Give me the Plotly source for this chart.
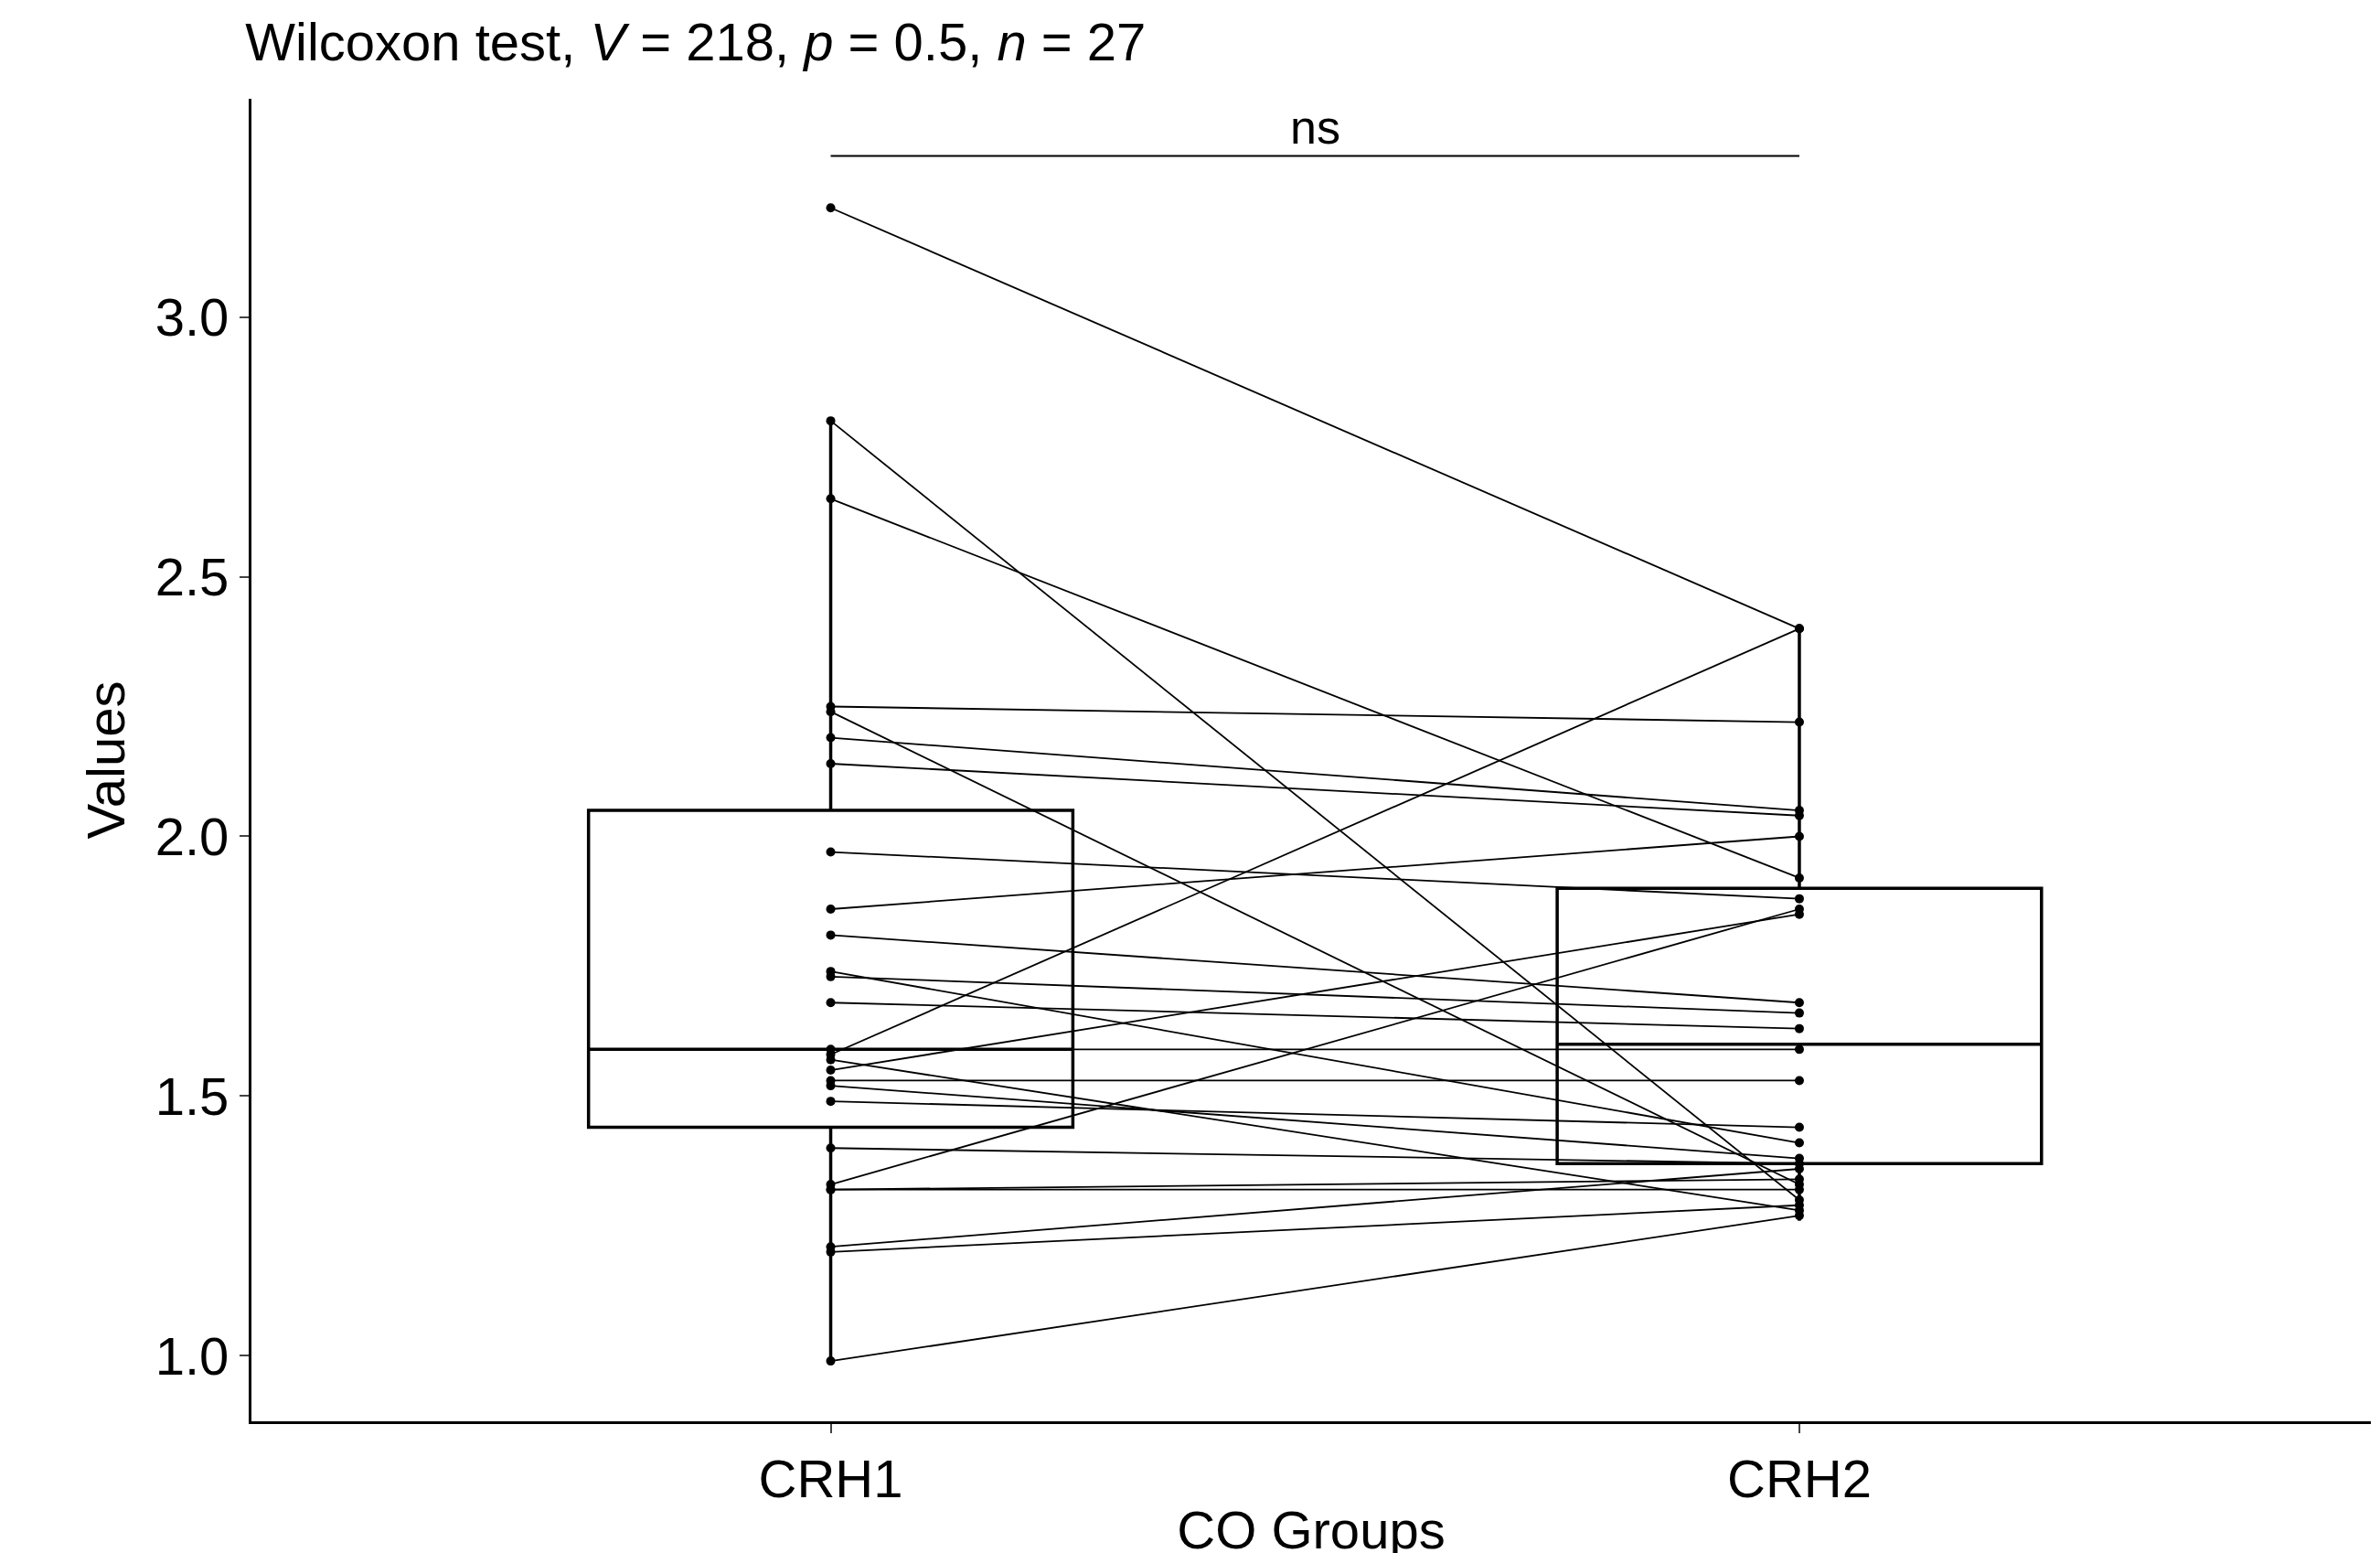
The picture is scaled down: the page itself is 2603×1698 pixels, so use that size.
import plotly.graph_objects as go

groups = ["CRH1", "CRH2"]
crh1 = [3.21, 2.80, 2.65, 2.25, 2.24, 2.19, 2.14, 1.97, 1.86, 1.81, 1.74, 1.73, 1.68,
        1.58, 1.59, 1.55, 1.53, 1.52, 1.49, 1.40, 1.33, 1.32, 1.32, 1.21, 1.20, 0.99, 1.57]
crh2 = [2.40, 1.30, 1.92, 2.22, 1.33, 2.05, 2.04, 1.88, 2.00, 1.68, 1.41, 1.66, 1.63,
        2.40, 1.59, 1.85, 1.53, 1.38, 1.44, 1.37, 1.86, 1.32, 1.34, 1.36, 1.29, 1.27, 1.28]
box_q1 = [1.44, 1.37]
box_med = [1.59, 1.60]
box_q3 = [2.05, 1.90]
box_lo = [0.99, 1.26]
box_hi = [2.80, 2.40]

fig = go.Figure()
for a, b in zip(crh1, crh2):
    fig.add_trace(go.Scatter(x=[0, 1], y=[a, b], mode="lines+markers",
                             line=dict(color="black", width=1.8),
                             marker=dict(color="black", size=10), showlegend=False))
fig.add_trace(go.Box(x=[0, 1], q1=box_q1, median=box_med, q3=box_q3,
                     lowerfence=box_lo, upperfence=box_hi, width=0.5,
                     fillcolor="rgba(0,0,0,0)", line=dict(color="black", width=3.5),
                     whiskerwidth=0, showlegend=False, boxpoints=False))
fig.add_trace(go.Scatter(x=[0, 1], y=[3.31, 3.31], mode="lines",
                         line=dict(color="black", width=2), showlegend=False))
fig.add_annotation(x=0.5, y=3.31, text="ns", showarrow=False, yanchor="bottom",
                   font=dict(size=52, color="black"))

fig.update_layout(
    width=2603, height=1698, plot_bgcolor="white", paper_bgcolor="white",
    margin=dict(l=267, r=18, t=100, b=143),
    font=dict(family="Liberation Sans, Arial", color="black"),
    title=dict(text="Wilcoxon test, <i>V</i> = 218, <i>p</i> = 0.5, <i>n</i> = 27",
               x=0.1, xanchor="left", y=0.99, yanchor="top", font=dict(size=58)),
    xaxis=dict(range=[-0.598, 1.59], tickvals=[0, 1], ticktext=groups,
               showline=True, linecolor="black", linewidth=3, ticks="outside",
               ticklen=10, tickwidth=2, tickfont=dict(size=58), showgrid=False,
               zeroline=False, title=dict(text="CO Groups", font=dict(size=58), standoff=5)),
    yaxis=dict(range=[0.874, 3.42], tickvals=[1.0, 1.5, 2.0, 2.5, 3.0],
               ticktext=["1.0", "1.5", "2.0", "2.5", "3.0"],
               showline=True, linecolor="black", linewidth=3, ticks="outside",
               ticklen=10, tickwidth=2, tickfont=dict(size=58), showgrid=False,
               zeroline=False, title=dict(text="Values", font=dict(size=58), standoff=15)),
)
fig.write_html("out.html")
